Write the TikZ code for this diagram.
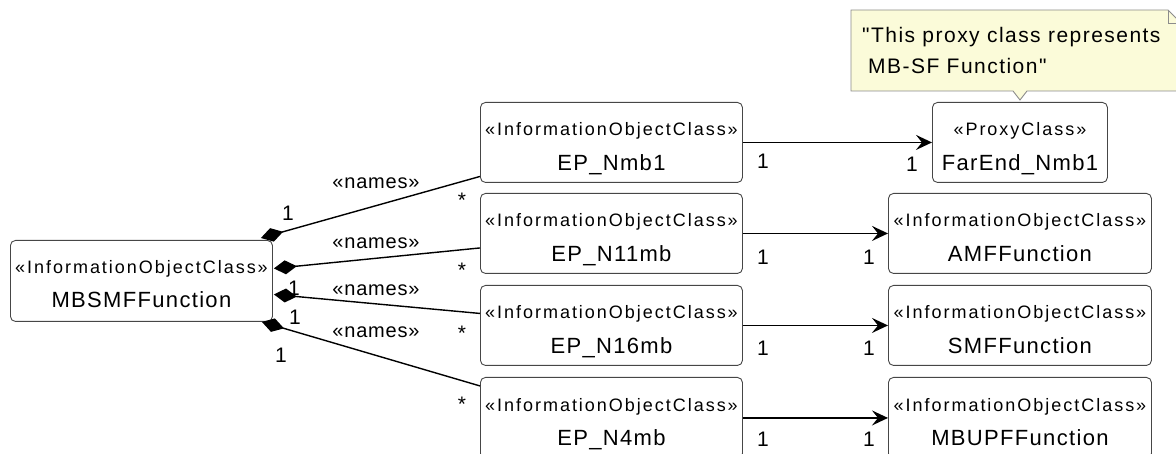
\documentclass[tikz,border=0pt]{standalone}
\usepackage{fontspec}
\setmainfont{Liberation Sans}
\newfontfamily\spc[LetterSpace=11]{Liberation Sans}
\newfontfamily\spn[LetterSpace=6]{Liberation Sans}
\newfontfamily\nsp[LetterSpace=4]{Liberation Sans}
\newfontfamily\ntp[LetterSpace=7]{Liberation Sans}
\usetikzlibrary{arrows.meta,calc}
\definecolor{noteyellow}{RGB}{251,251,217}
\definecolor{noteborder}{RGB}{140,140,140}
\definecolor{boxborder}{RGB}{70,70,70}
\begin{document}
\begin{tikzpicture}[x=1pt,y=-1pt,
  box/.style={draw=boxborder, rounded corners=5pt, line width=0.9pt, minimum width=262pt, minimum height=80pt, anchor=north west, inner sep=0pt},
  ster/.style={font=\spc\fontsize{18}{20}\selectfont, anchor=base, inner sep=0pt},
  nm/.style={font=\spn\fontsize{22}{24}\selectfont, anchor=base, inner sep=0pt},
  mult/.style={font=\fontsize{21}{24}\selectfont, anchor=center, inner sep=0pt},
  rolename/.style={font=\nsp\fontsize{20}{22}\selectfont, anchor=center, inner sep=0pt},
  comp/.style={draw, line width=1.4pt, {Diamond[length=23pt,width=14pt]}-},
  nav/.style={draw, line width=1.8pt, -{Stealth[length=16pt,width=15pt,inset=6pt]}}
]
\useasboundingbox (0,0) rectangle (1176,454);

% note
\filldraw[fill=noteyellow, draw=noteborder, line width=0.9pt]
  (851,10) -- (1168,10) -- (1181,23) -- (1181,91) -- (1027,91) -- (1020,100) -- (1013,91) -- (851,91) -- cycle;
\draw[noteborder, line width=0.9pt] (1168,10) -- (1168,23) -- (1181,23);
\node[font=\ntp\fontsize{21}{31}\selectfont, align=left, anchor=north west, inner sep=0pt] (note) at (862,27)
  {"This proxy class represents\\\hspace*{6pt}MB-SF Function"};

% boxes
\node[box, minimum height=81pt] (m) at (10,240) {};
\node[box] (ep1) at (480,102) {};
\node[box] (ep2) at (480,193) {};
\node[box] (ep3) at (480,285) {};
\node[box, minimum height=81pt] (ep4) at (480,377) {};
\node[box, minimum width=175pt] (far) at (932,102) {};
\node[box, minimum width=263pt] (amf) at (888,193) {};
\node[box, minimum width=263pt] (smf) at (888,285) {};
\node[box, minimum width=263pt, minimum height=81pt] (upf) at (888,377) {};

% box texts
\node[ster] (ms) at ($(m.north)+(0,34)$) {«InformationObjectClass»};
\node[nm] (mn) at ($(m.north)+(0,68)$) {MBSMFFunction};
\node[ster] (ep1s) at ($(ep1.north)+(0,34)$) {«InformationObjectClass»};
\node[nm] (ep1n) at ($(ep1.north)+(0,69)$) {EP\_Nmb1};
\node[ster] (ep2s) at ($(ep2.north)+(0,34)$) {«InformationObjectClass»};
\node[nm] (ep2n) at ($(ep2.north)+(0,69)$) {EP\_N11mb};
\node[ster] (ep3s) at ($(ep3.north)+(0,34)$) {«InformationObjectClass»};
\node[nm] (ep3n) at ($(ep3.north)+(0,69)$) {EP\_N16mb};
\node[ster] (ep4s) at ($(ep4.north)+(0,34)$) {«InformationObjectClass»};
\node[nm] (ep4n) at ($(ep4.north)+(0,69)$) {EP\_N4mb};
\node[ster] (fars) at ($(far.north)+(0,34)$) {«ProxyClass»};
\node[nm] (farn) at ($(far.north)+(0,69)$) {FarEnd\_Nmb1};
\node[ster] (amfs) at ($(amf.north)+(0,34)$) {«InformationObjectClass»};
\node[nm] (amfn) at ($(amf.north)+(0,69)$) {AMFFunction};
\node[ster] (smfs) at ($(smf.north)+(0,34)$) {«InformationObjectClass»};
\node[nm] (smfn) at ($(smf.north)+(0,69)$) {SMFFunction};
\node[ster] (upfs) at ($(upf.north)+(0,34)$) {«InformationObjectClass»};
\node[nm] (upfn) at ($(upf.north)+(0,69)$) {MBUPFFunction};

% compositions
\draw[comp] ($(m.north east)+(-12,-2)$) -- ($(ep1.west)+(0,34)$);
\draw[comp] ($(m.east)+(1,-12.5)$) -- ($(ep2.west)+(0,14.5)$);
\draw[comp] ($(m.east)+(1,13.5)$) -- ($(ep3.west)+(0,-12)$);
\draw[comp] ($(m.south east)+(-11,0)$) -- ($(ep4.west)+(0,-32)$);

% composition labels
\node[mult] (c1a) at (288,213) {1};
\node[mult] (c2a) at (294,288) {1};
\node[mult] (c3a) at (295,317) {1};
\node[mult] (c4a) at (281,355) {1};
\node[rolename] (r1) at (376,183) {«names»};
\node[rolename] (r2) at (376,243) {«names»};
\node[rolename] (r3) at (376,290) {«names»};
\node[rolename] (r4) at (376,332) {«names»};
\node[mult] (s1) at (462,200) {*};
\node[mult] (s2) at (462,270) {*};
\node[mult] (s3) at (462,333) {*};
\node[mult] (s4) at (462,404) {*};

% navigable associations
\draw[nav] (ep1.east) -- (far.west);
\draw[nav] (ep2.east) -- (amf.west);
\draw[nav] (ep3.east) -- (smf.west);
\draw[nav] (ep4.east) -- (upf.west);

\node[mult] (a1s) at (763,161) {1};
\node[mult] (a1t) at (912,164) {1};
\node[mult] (a2s) at (763,257) {1};
\node[mult] (a2t) at (869,257) {1};
\node[mult] (a3s) at (763,348) {1};
\node[mult] (a3t) at (869,348) {1};
\node[mult] (a4s) at (763,439) {1};
\node[mult] (a4t) at (869,439) {1};
\end{tikzpicture}
\end{document}
